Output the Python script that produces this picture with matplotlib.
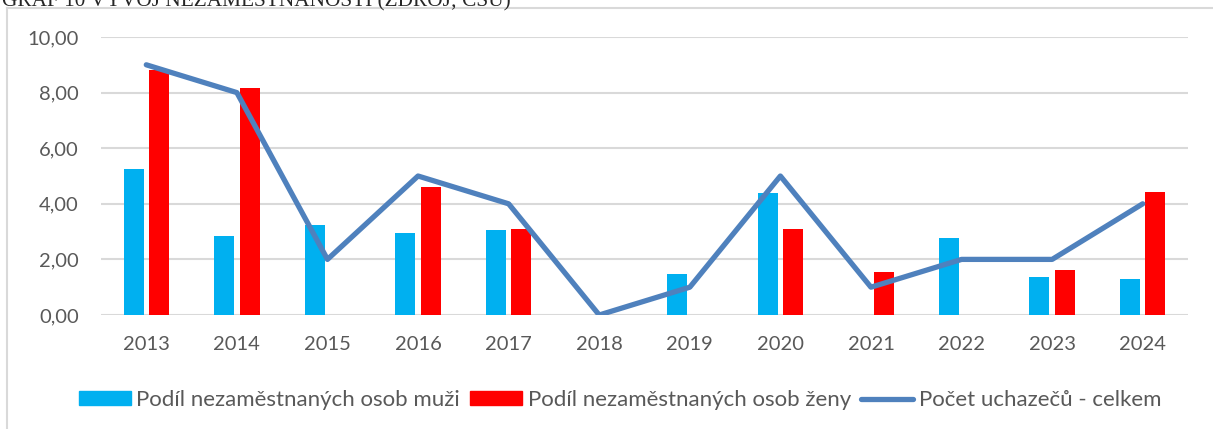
import matplotlib.pyplot as plt
import numpy as np
from matplotlib.lines import Line2D
from matplotlib.patches import Patch

years = ["2013", "2014", "2015", "2016", "2017", "2018",
         "2019", "2020", "2021", "2022", "2023", "2024"]
muzi = [5.25, 2.83, 3.25, 2.95, 3.06, 0, 1.48, 4.39, 0, 2.78, 1.36, 1.30]
zeny = [8.80, 8.18, 0, 4.60, 3.09, 0, 0, 3.09, 1.54, 0, 1.61, 4.44]
uchazeci = [9, 8, 2, 5, 4, 0, 1, 5, 1, 2, 2, 4]

title = "GRAF 10 VÝVOJ NEZAMĚSTNANOSTI (ZDROJ; ČSÚ)"
lbl_muzi = "Podíl nezaměstnaných osob muži"
lbl_zeny = "Podíl nezaměstnaných osob ženy"
lbl_line = "Počet uchazečů - celkem"

c_muzi = "#00B0F0"
c_zeny = "#FF0000"
c_line = "#4F81BD"
c_grid = "#D9D9D9"
c_text = "#595959"

W, H = 1213, 429
fig = plt.figure(figsize=(W / 100, H / 100), dpi=100)
plt.rcParams["font.family"] = ["Lato", "DejaVu Sans"]

ax = fig.add_axes([101 / W, 1 - 315 / H, (1188 - 101) / W, (315 - 37) / H])
x = np.arange(len(years))
bw = 0.22
ax.bar(x - 0.14, muzi, width=bw, color=c_muzi, zorder=2)
ax.bar(x + 0.14, zeny, width=bw, color=c_zeny, zorder=2)
ax.plot(x, uchazeci, color=c_line, lw=3.8, solid_capstyle="round",
        solid_joinstyle="round", zorder=3)

ax.set_xlim(-0.5, len(years) - 0.5)
ax.set_ylim(0, 10)
ax.set_yticks(np.arange(0, 11, 2))
ax.set_yticklabels([f"{v:.2f}".replace(".", ",") for v in np.arange(0, 11, 2)])
ax.set_xticks(x)
ax.set_xticklabels(years)
ax.grid(axis="y", color=c_grid, lw=1.5, zorder=0)
ax.set_axisbelow(True)
for s in ax.spines.values():
    s.set_visible(False)
ax.tick_params(axis="both", length=0, labelsize=14.5, labelcolor=c_text)
ax.tick_params(axis="y", pad=16)
ax.tick_params(axis="x", pad=15)

handles = [
    Patch(color=c_muzi, label=lbl_muzi),
    Patch(color=c_zeny, label=lbl_zeny),
    Line2D([0], [0], color=c_line, lw=3.8, solid_capstyle="round", label=lbl_line),
]
leg = fig.legend(handles=handles, loc="center", ncol=3,
                 bbox_to_anchor=(620 / W, 1 - 400 / H), frameon=False,
                 fontsize=16, handlelength=2.35, handleheight=0.6,
                 handletextpad=0.25, columnspacing=0.45, borderpad=0)
for t in leg.get_texts():
    t.set_color(c_text)

# chart frame (only top and left edges visible in the crop)
fig.add_artist(Line2D([7 / W, 7 / W], [0, 1 - 8 / H], color=c_grid, lw=1.5))
fig.add_artist(Line2D([7 / W, 1], [1 - 8 / H, 1 - 8 / H], color=c_grid, lw=1.5))

# title, cut off at the top edge like in the source
fig.text(2 / W, 1 - 6 / H, title, fontsize=15.3, family=["Liberation Serif"],
         color="#262626", va="baseline", ha="left")

fig.savefig("out.png", dpi=100)
